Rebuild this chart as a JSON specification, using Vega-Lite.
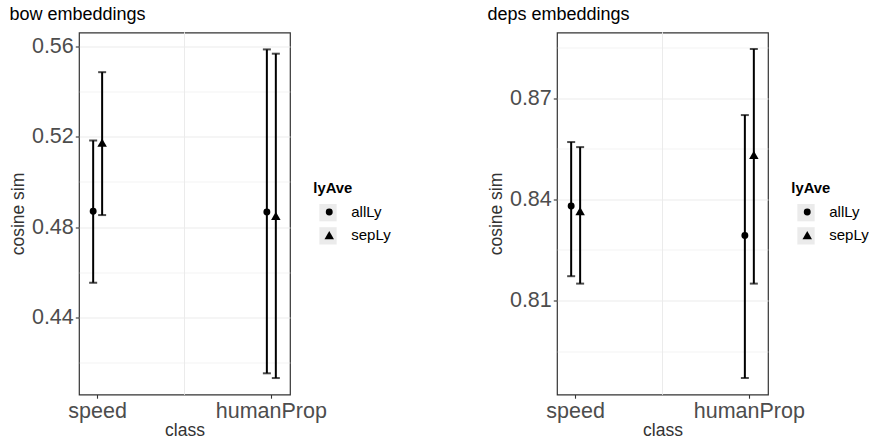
{
  "$schema": "https://vega.github.io/schema/vega-lite/v6.json",
  "padding": {"left": 8, "top": 5.5, "right": 0, "bottom": 0},
  "datasets": {
    "bow": [
      {"class": "speed", "lyAve": "allLy", "mean": 0.487, "lower": 0.4553, "upper": 0.5184},
      {"class": "speed", "lyAve": "sepLy", "mean": 0.5174, "lower": 0.4853, "upper": 0.5487},
      {"class": "humanProp", "lyAve": "allLy", "mean": 0.4867, "lower": 0.4151, "upper": 0.5588},
      {"class": "humanProp", "lyAve": "sepLy", "mean": 0.4849, "lower": 0.413, "upper": 0.5569}
    ],
    "deps": [
      {"class": "speed", "lyAve": "allLy", "mean": 0.838, "lower": 0.8172, "upper": 0.857},
      {"class": "speed", "lyAve": "sepLy", "mean": 0.8365, "lower": 0.815, "upper": 0.8555},
      {"class": "humanProp", "lyAve": "allLy", "mean": 0.8293, "lower": 0.787, "upper": 0.865},
      {"class": "humanProp", "lyAve": "sepLy", "mean": 0.8532, "lower": 0.815, "upper": 0.8846}
    ]
  },
  "spacing": 94,
  "resolve": {"legend": {"shape": "independent", "size": "independent", "color": "independent"}, "scale": {"y": "independent"}},
  "hconcat": [
    {
      "width": 211,
      "height": 362,
      "title": {"text": "bow embeddings"},
      "data": {"name": "bow"},
      "encoding": {
        "x": {"field": "class", "type": "nominal", "sort": ["speed", "humanProp"],
              "scale": {"paddingInner": 0.8967, "paddingOuter": 0.0557},
              "axis": {"labelAngle": 0, "title": "class", "titlePadding": 0}},
        "xOffset": {"field": "lyAve", "type": "nominal", "scale": {"paddingInner": 0, "paddingOuter": 0}}
      },
      "layer": [
        {
          "mark": {"type": "rule", "color": "#ebebeb", "strokeWidth": 0.6},
          "encoding": {"x": {"datum": "speed", "bandPosition": 5.34}, "xOffset": null}
        },
        {
          "mark": {"type": "point", "filled": true, "opacity": 0},
          "encoding": {
            "y": {"field": "mean", "type": "quantitative"},
            "color": {"field": "lyAve", "type": "nominal",
                      "scale": {"domain": ["allLy", "sepLy"], "range": ["#ebebeb", "#ebebeb"]},
                      "legend": {"title": "lyAve", "orient": "none", "legendX": 234.3, "legendY": 148, "zindex": 1,
                                 "symbolType": "square", "symbolSize": 300, "symbolOpacity": 1, "symbolStrokeWidth": 0,
                                 "symbolOffset": 5.7, "titlePadding": 8.35, "rowPadding": 5.2,
                                 "titleOpacity": 0, "labelExpr": "''"}}
          }
        },
        {
          "mark": {"type": "rule", "color": "black", "strokeWidth": 2},
          "encoding": {
            "y": {"field": "lower", "type": "quantitative",
                  "scale": {"domain": [0.4057, 0.5663], "nice": false, "zero": false},
                  "axis": {"title": "cosine sim", "values": [0.42, 0.44, 0.46, 0.48, 0.5, 0.52, 0.54, 0.56],
                           "labelExpr": "round(datum.value*100) % 4 == 0 ? format(datum.value, '.2f') : ''",
                           "tickOpacity": {"condition": {"test": "round(datum.value*100) % 4 == 0", "value": 1}, "value": 0},
                           "gridWidth": {"condition": {"test": "round(datum.value*100) % 4 == 0", "value": 1}, "value": 0.6}}},
            "y2": {"field": "upper"}
          }
        },
        {
          "mark": {"type": "tick", "color": "black", "thickness": 2, "size": 8, "orient": "horizontal"},
          "encoding": {"y": {"field": "lower", "type": "quantitative"}}
        },
        {
          "mark": {"type": "tick", "color": "black", "thickness": 2, "size": 8, "orient": "horizontal"},
          "encoding": {"y": {"field": "upper", "type": "quantitative"}}
        },
        {
          "mark": {"type": "point", "filled": true, "opacity": 1, "color": "black"},
          "encoding": {
            "y": {"field": "mean", "type": "quantitative"},
            "shape": {"field": "lyAve", "type": "nominal",
                      "scale": {"range": ["circle", "triangle-up"]},
                      "legend": {"title": "lyAve", "orient": "none", "legendX": 234.3, "legendY": 148, "zindex": 2,
                                 "symbolOffset": 8.45, "labelOffset": 14.5, "titlePadding": 9.25, "rowPadding": 7}},
            "size": {"field": "lyAve", "type": "nominal",
                     "scale": {"range": [48, 90]},
                     "legend": {"title": "lyAve", "orient": "none", "legendX": 234.3, "legendY": 148, "zindex": 2,
                                "symbolOffset": 8.45, "labelOffset": 14.5, "titlePadding": 9.25, "rowPadding": 7}}
          }
        }
      ]
    },
    {
      "width": 211,
      "height": 362,
      "title": {"text": "deps embeddings"},
      "data": {"name": "deps"},
      "encoding": {
        "x": {"field": "class", "type": "nominal", "sort": ["speed", "humanProp"],
              "scale": {"paddingInner": 0.8967, "paddingOuter": 0.0557},
              "axis": {"labelAngle": 0, "title": "class", "titlePadding": 0}},
        "xOffset": {"field": "lyAve", "type": "nominal", "scale": {"paddingInner": 0, "paddingOuter": 0}}
      },
      "layer": [
        {
          "mark": {"type": "rule", "color": "#ebebeb", "strokeWidth": 0.6},
          "encoding": {"x": {"datum": "speed", "bandPosition": 5.34}, "xOffset": null}
        },
        {
          "mark": {"type": "point", "filled": true, "opacity": 0},
          "encoding": {
            "y": {"field": "mean", "type": "quantitative"},
            "color": {"field": "lyAve", "type": "nominal",
                      "scale": {"domain": ["allLy", "sepLy"], "range": ["#ebebeb", "#ebebeb"]},
                      "legend": {"title": "lyAve", "orient": "none", "legendX": 234.3, "legendY": 148, "zindex": 1,
                                 "symbolType": "square", "symbolSize": 300, "symbolOpacity": 1, "symbolStrokeWidth": 0,
                                 "symbolOffset": 5.7, "titlePadding": 8.35, "rowPadding": 5.2,
                                 "titleOpacity": 0, "labelExpr": "''"}}
          }
        },
        {
          "mark": {"type": "rule", "color": "black", "strokeWidth": 2},
          "encoding": {
            "y": {"field": "lower", "type": "quantitative",
                  "scale": {"domain": [0.7821, 0.8895], "nice": false, "zero": false},
                  "axis": {"title": "cosine sim", "values": [0.795, 0.81, 0.825, 0.84, 0.855, 0.87, 0.885],
                           "labelExpr": "round(datum.value*1000) % 30 == 0 ? format(datum.value, '.2f') : ''",
                           "tickOpacity": {"condition": {"test": "round(datum.value*1000) % 30 == 0", "value": 1}, "value": 0},
                           "gridWidth": {"condition": {"test": "round(datum.value*1000) % 30 == 0", "value": 1}, "value": 0.6}}},
            "y2": {"field": "upper"}
          }
        },
        {
          "mark": {"type": "tick", "color": "black", "thickness": 2, "size": 8, "orient": "horizontal"},
          "encoding": {"y": {"field": "lower", "type": "quantitative"}}
        },
        {
          "mark": {"type": "tick", "color": "black", "thickness": 2, "size": 8, "orient": "horizontal"},
          "encoding": {"y": {"field": "upper", "type": "quantitative"}}
        },
        {
          "mark": {"type": "point", "filled": true, "opacity": 1, "color": "black"},
          "encoding": {
            "y": {"field": "mean", "type": "quantitative"},
            "shape": {"field": "lyAve", "type": "nominal",
                      "scale": {"range": ["circle", "triangle-up"]},
                      "legend": {"title": "lyAve", "orient": "none", "legendX": 234.3, "legendY": 148, "zindex": 2,
                                 "symbolOffset": 8.45, "labelOffset": 14.5, "titlePadding": 9.25, "rowPadding": 7}},
            "size": {"field": "lyAve", "type": "nominal",
                     "scale": {"range": [48, 90]},
                     "legend": {"title": "lyAve", "orient": "none", "legendX": 234.3, "legendY": 148, "zindex": 2,
                                "symbolOffset": 8.45, "labelOffset": 14.5, "titlePadding": 9.25, "rowPadding": 7}}
          }
        }
      ]
    }
  ],
  "config": {
    "font": "Liberation Sans",
    "view": {"stroke": "#333333", "strokeWidth": 1.2},
    "title": {"anchor": "start", "fontSize": 18, "fontWeight": "normal", "color": "#000000", "baseline": "alphabetic", "offset": 8},
    "axis": {
      "labelFontSize": 21.5, "labelColor": "#4d4d4d", "labelPadding": 2,
      "titleFontSize": 17.5, "titleFontWeight": "normal", "titleColor": "#333333", "titlePadding": 4,
      "tickColor": "#333333", "tickSize": 3.7, "tickWidth": 1.1,
      "gridColor": "#ebebeb", "domain": false
    },
    "legend": {
      "titleFontSize": 14.8, "titleFontWeight": "bold", "titleColor": "#000000",
      "labelFontSize": 15, "labelColor": "#000000", "symbolFillColor": "black",
      "symbolStrokeColor": "black"
    }
  }
}
